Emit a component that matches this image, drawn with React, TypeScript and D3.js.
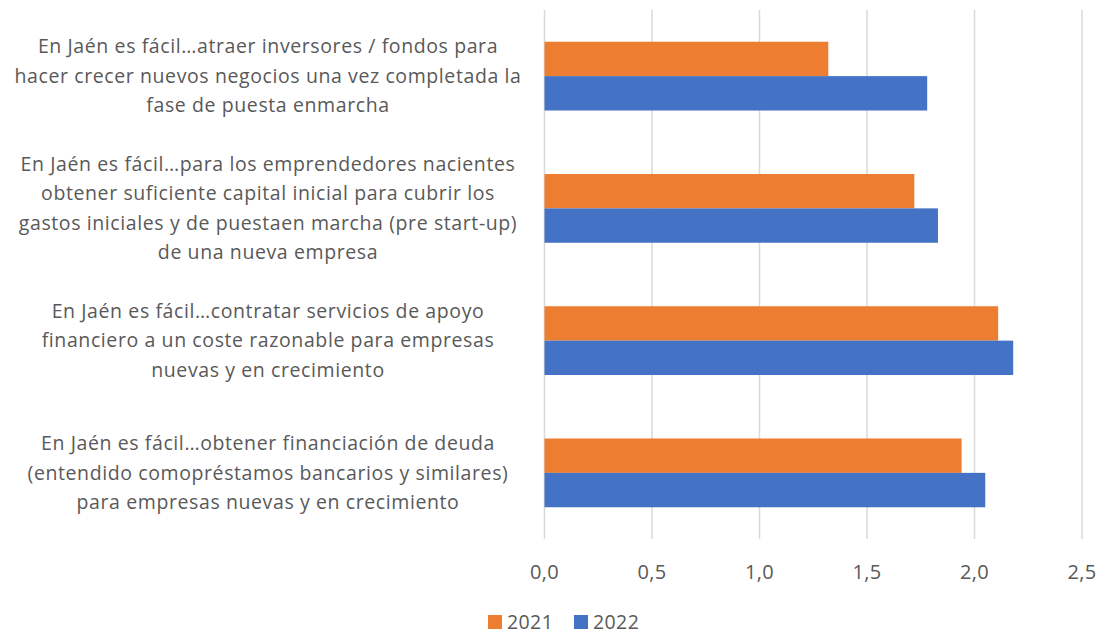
import React from "react";
import * as d3 from "d3";

// categories, top to bottom, each split into the lines shown
const categories = ["atraer", "capital", "apoyo", "deuda"];
const categoryLines = [
  [
    "En Jaén es fácil…atraer inversores / fondos para",
    "hacer crecer nuevos negocios una vez completada la",
    "fase de puesta enmarcha",
  ],
  [
    "En Jaén es fácil…para los emprendedores nacientes",
    "obtener suficiente capital inicial para cubrir los",
    "gastos iniciales y de puestaen marcha (pre start-up)",
    "de una nueva empresa",
  ],
  [
    "En Jaén es fácil…contratar servicios de apoyo",
    "financiero a un coste razonable para empresas",
    "nuevas y en crecimiento",
  ],
  [
    "En Jaén es fácil…obtener financiación de deuda",
    "(entendido comopréstamos bancarios y similares)",
    "para empresas nuevas y en crecimiento",
  ],
];

const seriesNames = ["2021", "2022"];
const values2021 = [1.32, 1.72, 2.11, 1.94];
const values2022 = [1.78, 1.83, 2.18, 2.05];
const tickValues = [0, 0.5, 1, 1.5, 2, 2.5];

const WIDTH = 1100;
const HEIGHT = 634;
const PLOT = { LEFT: 544.5, RIGHT: 1082, TOP: 10, BOTTOM: 539 };
const COLORS = ["#ED7D31", "#4472C4"];
const TEXT = "#595959";
const FONT = "'Open Sans', 'Liberation Sans', sans-serif";

const App = () => {
  const x = d3.scaleLinear().domain([0, 2.5]).range([PLOT.LEFT, PLOT.RIGHT]);

  const y = d3
    .scaleBand()
    .domain(categories)
    .range([PLOT.TOP, PLOT.BOTTOM])
    .paddingInner(0.48)
    .paddingOuter(0.24);

  const ySeries = d3
    .scaleBand()
    .domain(seriesNames)
    .range([0, y.bandwidth()]);

  const series = [values2021, values2022];
  const fmt = (d) => d3.format(".1f")(d).replace(".", ",");
  const lineHeight = 29.5;
  const labelX = 268;

  return (
    <svg
      width={WIDTH}
      height={HEIGHT}
      style={{ position: "absolute", left: 0, top: 0, background: "#fff" }}
      fontFamily={FONT}
    >
      {/* gridlines */}
      {tickValues.map((t) => (
        <line
          key={t}
          x1={x(t)}
          x2={x(t)}
          y1={PLOT.TOP}
          y2={PLOT.BOTTOM}
          stroke="#d9d9d9"
          strokeWidth={1.5}
        />
      ))}

      {/* bars */}
      {categories.map((c, i) => (
        <g key={c} transform={`translate(0, ${y(c)})`}>
          {seriesNames.map((s, j) => (
            <rect
              key={s}
              x={x(0)}
              y={ySeries(s)}
              width={x(series[j][i]) - x(0)}
              height={ySeries.bandwidth()}
              fill={COLORS[j]}
            />
          ))}
        </g>
      ))}

      {/* category labels */}
      {categories.map((c, i) => {
        const lines = categoryLines[i];
        const mid = y(c) + y.bandwidth() / 2;
        const first = mid - ((lines.length - 1) * lineHeight) / 2;
        return (
          <text
            key={c}
            x={labelX}
            textAnchor="middle"
            fontSize={19.5}
            letterSpacing={0.6}
            fill={TEXT}
          >
            {lines.map((l, k) => (
              <tspan key={k} x={labelX} y={first + k * lineHeight} dy="0.35em">
                {l}
              </tspan>
            ))}
          </text>
        );
      })}

      {/* x tick labels */}
      {tickValues.map((t) => (
        <text
          key={t}
          x={x(t)}
          y={572}
          dy="0.35em"
          textAnchor="middle"
          fontSize={20}
          letterSpacing={0.4}
          fill={TEXT}
        >
          {fmt(t)}
        </text>
      ))}

      {/* legend */}
      {seriesNames.map((s, j) => (
        <g key={s} transform={`translate(${488 + j * 86}, 615)`}>
          <rect width={14} height={14} fill={COLORS[j]} />
          <text x={19} y={7} dy="0.35em" fontSize={19.5} letterSpacing={0.4} fill={TEXT}>
            {s}
          </text>
        </g>
      ))}
    </svg>
  );
};

export default App;
